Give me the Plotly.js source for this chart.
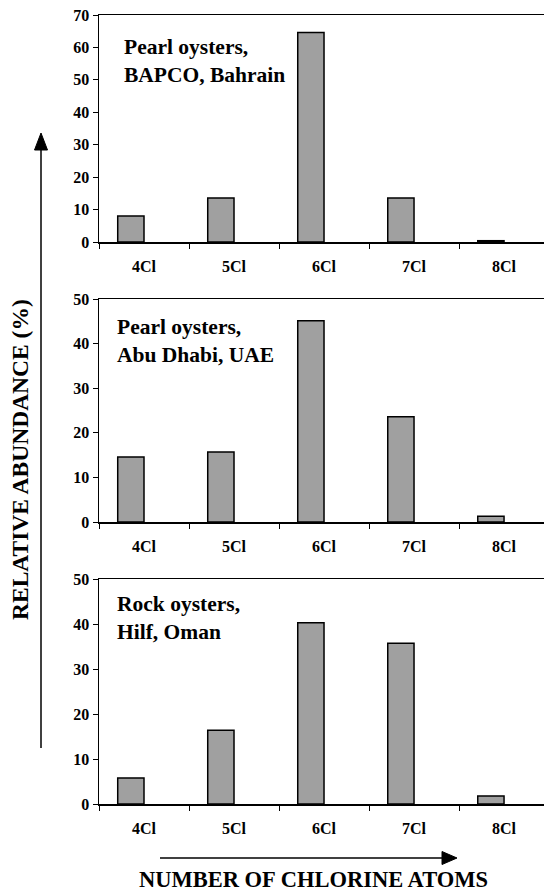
<!DOCTYPE html>
<html>
<head>
<meta charset="utf-8">
<script src="https://cdn.plot.ly/plotly-3.0.1.min.js"></script>
<style>
html,body{margin:0;padding:0;background:#fff;overflow:hidden;}
#chart{width:544px;height:892px;}
</style>
</head>
<body>
<div id="chart"></div>
<script>
var categories = ['4Cl', '5Cl', '6Cl', '7Cl', '8Cl'];
var bapcoBahrain = [8.0, 13.6, 64.6, 13.6, 0.4];
var abuDhabiUAE = [14.6, 15.7, 45.1, 23.6, 1.3];
var hilfOman = [5.8, 16.4, 40.3, 35.7, 1.8];
var panelLabels = ['Pearl oysters,<br>BAPCO, Bahrain', 'Pearl oysters,<br>Abu Dhabi, UAE', 'Rock oysters,<br>Hilf, Oman'];
var yMax = [70, 50, 50];
var xTitle = 'NUMBER OF CHLORINE ATOMS';
var yTitle = 'RELATIVE ABUNDANCE (%)';

var W = 544, H = 892;
var FONT = 'Liberation Serif';
function px(x) { return x / W; }
function py(y) { return 1 - y / H; }
function fnt(size) { return {family: FONT, size: size, color: '#000', weight: 'bold'}; }

var panelPx = [[15, 242], [299, 522], [579, 804]];
var series = [bapcoBahrain, abuDhabiUAE, hilfOman];

var traces = [];
var layout = {
  width: W, height: H,
  margin: {l: 0, r: 0, t: 0, b: 0},
  paper_bgcolor: '#fff', plot_bgcolor: '#fff',
  showlegend: false,
  font: fnt(12),
  annotations: [],
  shapes: []
};

for (var i = 0; i < 3; i++) {
  var sfx = i === 0 ? '' : String(i + 1);
  traces.push({
    type: 'bar',
    x: categories,
    y: series[i],
    xaxis: 'x' + sfx,
    yaxis: 'y' + sfx,
    width: 0.292,
    offset: -0.292,
    marker: {color: '#a0a0a0', line: {color: '#000', width: 1.5}}
  });
  layout['xaxis' + sfx] = {
    domain: [px(99), 1],
    anchor: 'y' + sfx,
    type: 'category',
    categoryorder: 'array',
    categoryarray: categories,
    range: [-0.5, 4.444],
    tickson: 'boundaries',
    ticks: 'outside', ticklen: 5, tickwidth: 1, tickcolor: '#000',
    showline: true, linecolor: '#000', linewidth: 1.5, mirror: true,
    showgrid: false, zeroline: false,
    ticklabelstandoff: 9,
    tickfont: fnt(16),
    fixedrange: true
  };
  layout['yaxis' + sfx] = {
    domain: [py(panelPx[i][1]), py(panelPx[i][0])],
    anchor: 'x' + sfx,
    range: [0, yMax[i]],
    dtick: 10,
    ticks: 'outside', ticklen: 5, tickwidth: 1, tickcolor: '#000',
    showline: true, linecolor: '#000', linewidth: 1.5,
    showgrid: false, zeroline: false,
    tickfont: fnt(16),
    fixedrange: true
  };
}

var labelPos = [[122, 33], [115, 313], [115, 590]];
for (var j = 0; j < 3; j++) {
  layout.annotations.push({
    text: panelLabels[j],
    xref: 'paper', yref: 'paper',
    x: px(labelPos[j][0]), y: py(labelPos[j][1]),
    xanchor: 'left', yanchor: 'top', align: 'left',
    showarrow: false,
    font: fnt(21.5)
  });
}

layout.annotations.push({
  text: xTitle, xref: 'paper', yref: 'paper',
  x: px(313), y: -2 / H, xanchor: 'center', yanchor: 'bottom',
  showarrow: false,
  font: fnt(22.5)
});
layout.annotations.push({
  text: yTitle, xref: 'paper', yref: 'paper',
  x: px(20), y: py(460), xanchor: 'center', yanchor: 'middle',
  textangle: -90, showarrow: false,
  font: fnt(23.5)
});

layout.shapes.push({type: 'line', xref: 'paper', yref: 'paper',
  x0: px(41), y0: py(748), x1: px(41), y1: py(148),
  line: {color: '#000', width: 1.5}});
layout.shapes.push({type: 'path', xref: 'paper', yref: 'paper',
  path: 'M ' + px(34.5) + ' ' + py(150) + ' L ' + px(47.5) + ' ' + py(150) + ' L ' + px(41) + ' ' + py(133) + ' Z',
  fillcolor: '#000', line: {color: '#000', width: 1}});
layout.shapes.push({type: 'line', xref: 'paper', yref: 'paper',
  x0: px(160), y0: py(858), x1: px(444), y1: py(858),
  line: {color: '#000', width: 1.5}});
layout.shapes.push({type: 'path', xref: 'paper', yref: 'paper',
  path: 'M ' + px(442) + ' ' + py(851.5) + ' L ' + px(442) + ' ' + py(864.5) + ' L ' + px(457) + ' ' + py(858) + ' Z',
  fillcolor: '#000', line: {color: '#000', width: 1}});

Plotly.newPlot('chart', traces, layout, {displayModeBar: false, staticPlot: true});
</script>
</body>
</html>
